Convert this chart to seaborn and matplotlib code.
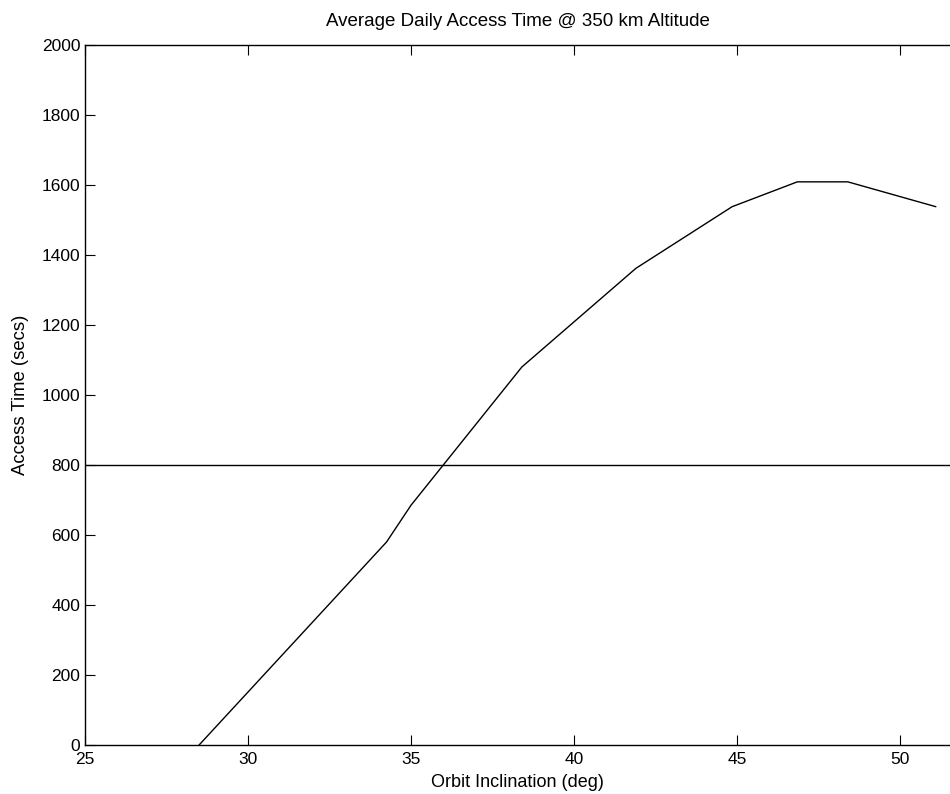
import matplotlib
matplotlib.use("Agg")
import matplotlib.pyplot as plt
import seaborn as sns
import pandas as pd

inclination = [28.5, 34.25, 35.0, 38.4, 41.9, 44.85, 46.85, 48.4, 51.1]
access_time = [0, 580, 685, 1080, 1362, 1538, 1609, 1609, 1538]
threshold = 800
x_ticks = [25, 30, 35, 40, 45, 50]
y_ticks = [0, 200, 400, 600, 800, 1000, 1200, 1400, 1600, 1800, 2000]

sns.set_style("ticks")
plt.rcParams['font.family'] = ['Liberation Sans', 'DejaVu Sans']
plt.rcParams['text.color'] = 'black'
plt.rcParams['axes.labelcolor'] = 'black'

df = pd.DataFrame({"inc": inclination, "t": access_time})

fig = plt.figure(figsize=(9.5, 7.94), dpi=100)
ax = fig.add_axes([85/950, 1-745/794, 1-85/950, (745-45)/794])

sns.lineplot(data=df, x="inc", y="t", ax=ax, color="black", linewidth=1.0, sort=False)
ax.axhline(threshold, color="black", linewidth=1.0)

ax.set_xlim(25, 25 + (950-85)/32.6)
ax.set_ylim(0, 2000)
ax.set_xticks(x_ticks)
ax.set_yticks(y_ticks)
ax.tick_params(direction="in", length=7, width=0.8, labelsize=12.5, top=True, colors="black")
ax.tick_params(axis="x", pad=5)
for s in ["left", "top", "bottom"]:
    ax.spines[s].set_visible(True)
    ax.spines[s].set_linewidth(1.0)
    ax.spines[s].set_color("black")
ax.spines["right"].set_visible(False)

ax.set_title("Average Daily Access Time @ 350 km Altitude", fontsize=13.5, pad=14)
ax.set_xlabel("Orbit Inclination (deg)", fontsize=13, labelpad=5)
ax.set_ylabel("Access Time (secs)", fontsize=13.3, labelpad=9)

fig.savefig("out.png", dpi=100)
